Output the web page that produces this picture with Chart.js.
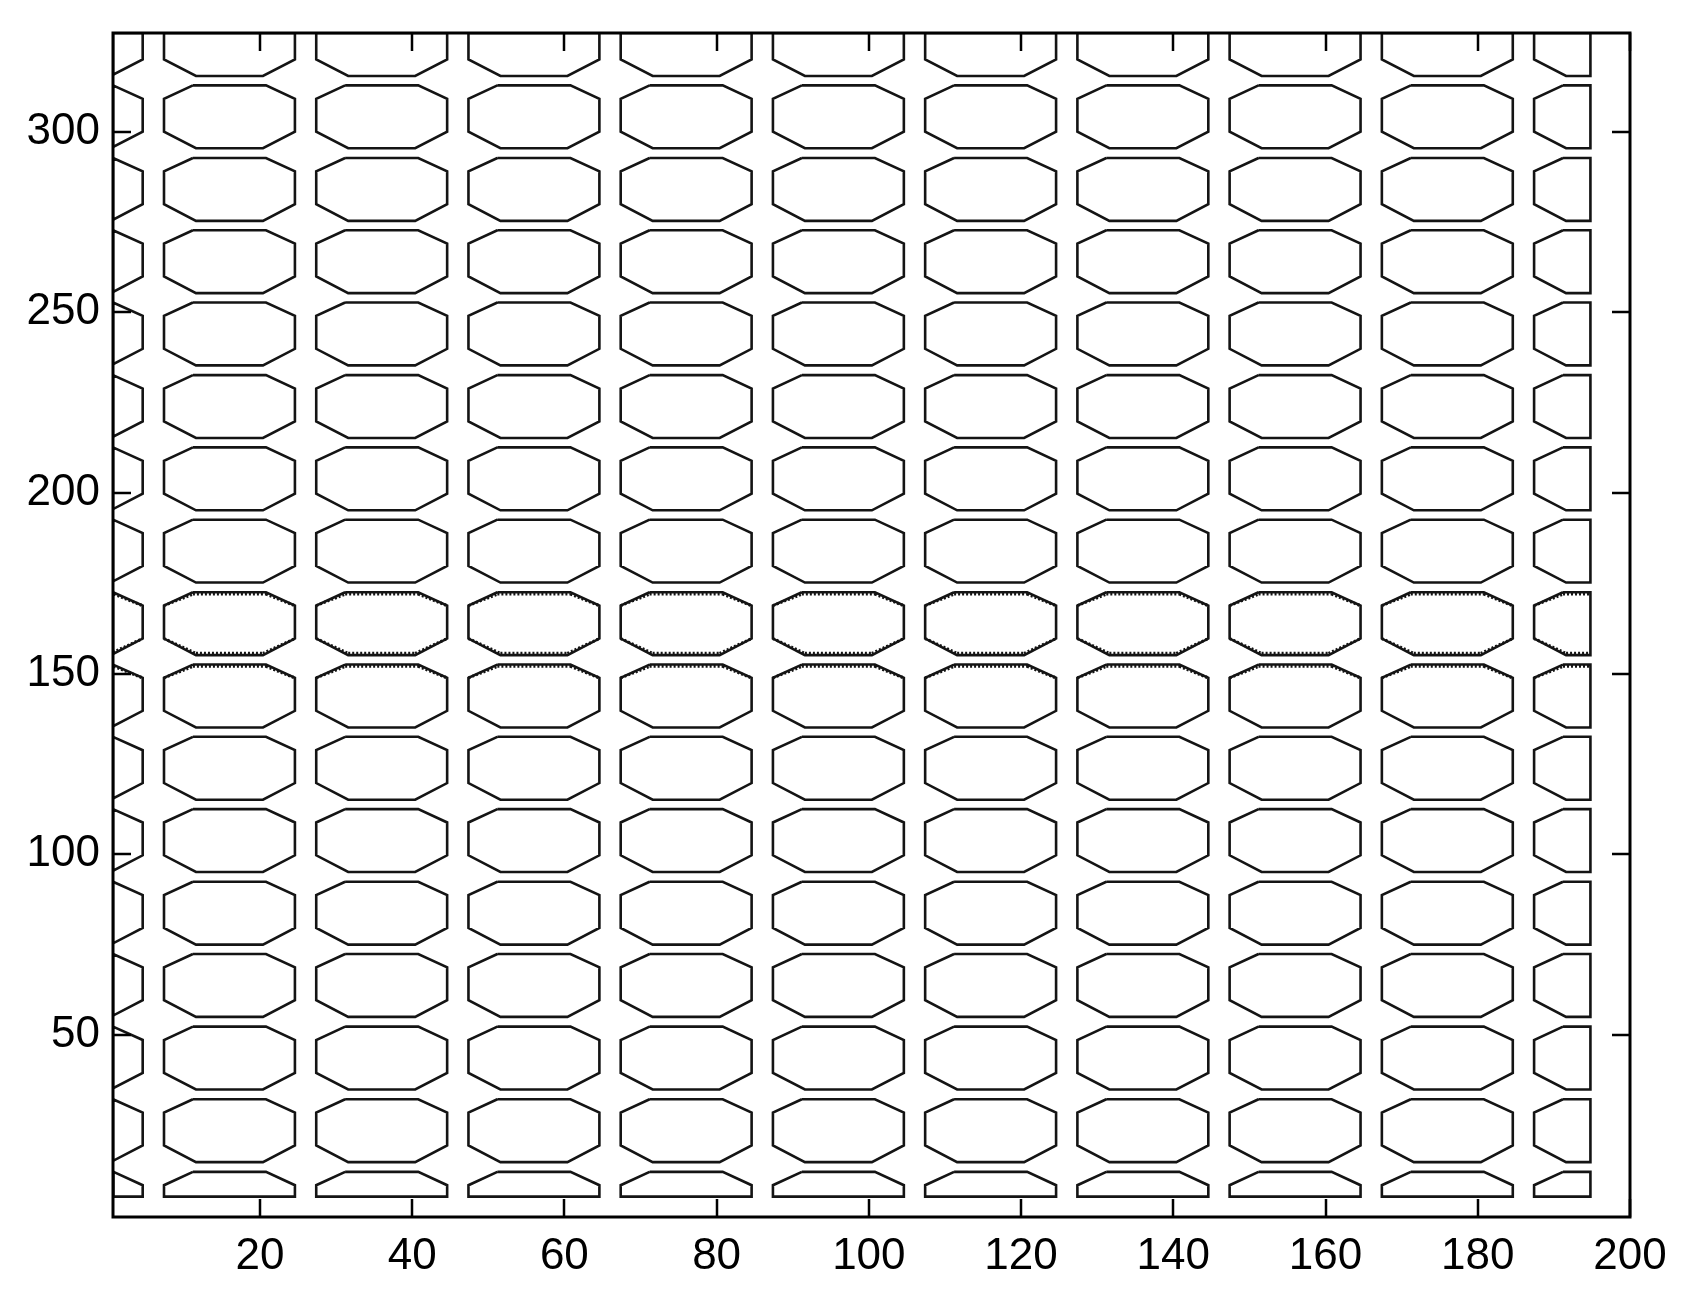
<!DOCTYPE html>
<html>
<head>
<meta charset="utf-8">
<script src="https://cdn.jsdelivr.net/npm/chart.js@4/dist/chart.umd.min.js"></script>
<style>
  body { margin: 0; background: #fff; }
</style>
</head>
<body>
<canvas id="chart" width="1687" height="1306"></canvas>
<script>
// tick labels
const xTicks = [20, 40, 60, 80, 100, 120, 140, 160, 180, 200];
const yTicks = [50, 100, 150, 200, 250, 300];

// centres of the octagon cells
const colCenters = [-4, 16, 36, 56, 76, 96, 116, 136, 156, 176, 196];
const rowCenters = [3.4, 23.5, 43.6, 63.7, 83.7, 103.8, 123.8, 143.8, 163.8, 183.9, 203.9, 223.9, 244.0, 264.0, 284.0, 304.1, 324.1];

// one contour ring around a cell centre (dx, dy)
const cellShape = [[-4.8, 8.7], [4.8, 8.7], [8.6, 5.0], [8.6, -4.1], [4.4, -8.7], [-4.4, -8.7], [-8.6, -4.1], [-8.6, 5.0]];
// the second, tighter contour level that shows on two rows
const innerTop = [[-8.6, 5.0], [-4.8, 8.2], [4.8, 8.2], [8.6, 5.0]];
const innerBottom = [[-8.6, -4.1], [-4.4, -8.2], [4.4, -8.2], [8.6, -4.1]];
const doubleTopRows = [143.8, 163.8];
const doubleBottomRows = [163.8];

// where the contour field ends
const dataBox = { x0: 0.7, x1: 194.8, y0: 5.25, y1: 327.3 };

function lerpX(a, b, x) { const t = (x - a[0]) / (b[0] - a[0]); return [x, a[1] + t * (b[1] - a[1])]; }
function lerpY(a, b, y) { const t = (y - a[1]) / (b[1] - a[1]); return [a[0] + t * (b[0] - a[0]), y]; }

// Sutherland-Hodgman against the data box
function clipPolygon(pts) {
  const edges = [
    [p => p[0] >= dataBox.x0, (a, b) => lerpX(a, b, dataBox.x0)],
    [p => p[0] <= dataBox.x1, (a, b) => lerpX(a, b, dataBox.x1)],
    [p => p[1] >= dataBox.y0, (a, b) => lerpY(a, b, dataBox.y0)],
    [p => p[1] <= dataBox.y1, (a, b) => lerpY(a, b, dataBox.y1)]
  ];
  let out = pts;
  edges.forEach(([inside, cut]) => {
    const src = out;
    out = [];
    src.forEach((cur, i) => {
      const prev = src[(i + src.length - 1) % src.length];
      if (inside(cur)) {
        if (!inside(prev)) out.push(cut(prev, cur));
        out.push(cur);
      } else if (inside(prev)) {
        out.push(cut(prev, cur));
      }
    });
  });
  return out;
}

// Liang-Barsky for one segment
function clipSegment(a, b) {
  let t0 = 0, t1 = 1;
  const dx = b[0] - a[0], dy = b[1] - a[1];
  const checks = [[-dx, a[0] - dataBox.x0], [dx, dataBox.x1 - a[0]], [-dy, a[1] - dataBox.y0], [dy, dataBox.y1 - a[1]]];
  for (const [p, q] of checks) {
    if (p === 0) { if (q < 0) return null; continue; }
    const r = q / p;
    if (p < 0) { if (r > t1) return null; if (r > t0) t0 = r; }
    else { if (r < t0) return null; if (r < t1) t1 = r; }
  }
  return [[a[0] + t0 * dx, a[1] + t0 * dy], [a[0] + t1 * dx, a[1] + t1 * dy]];
}

const outlinePts = [];
const innerPts = [];
const gap = { x: null, y: null };

rowCenters.forEach(cy => {
  colCenters.forEach(cx => {
    const ring = clipPolygon(cellShape.map(([dx, dy]) => [cx + dx, cy + dy]));
    if (ring.length > 1) {
      ring.concat([ring[0]]).forEach(p => outlinePts.push({ x: p[0], y: p[1] }));
      outlinePts.push(gap);
    }
    const extra = [];
    if (doubleTopRows.includes(cy)) extra.push(innerTop);
    if (doubleBottomRows.includes(cy)) extra.push(innerBottom);
    extra.forEach(line => {
      for (let i = 0; i < line.length - 1; i++) {
        const seg = clipSegment([cx + line[i][0], cy + line[i][1]], [cx + line[i + 1][0], cy + line[i + 1][1]]);
        if (!seg) continue;
        innerPts.push({ x: seg[0][0], y: seg[0][1] }, { x: seg[1][0], y: seg[1][1] }, gap);
      }
    });
  });
});

// inward ticks on all four sides plus the box
const frameTicks = {
  id: 'frameTicks',
  afterDraw(chart) {
    const { ctx, chartArea: a, scales: { x, y } } = chart;
    const len = 18;
    ctx.save();
    ctx.strokeStyle = '#000';
    ctx.lineWidth = 2.5;
    ctx.beginPath();
    xTicks.forEach(v => {
      const px = Math.round(x.getPixelForValue(v));
      ctx.moveTo(px, a.bottom); ctx.lineTo(px, a.bottom - len);
      ctx.moveTo(px, a.top); ctx.lineTo(px, a.top + len);
    });
    yTicks.forEach(v => {
      const py = Math.round(y.getPixelForValue(v));
      ctx.moveTo(a.left, py); ctx.lineTo(a.left + len, py);
      ctx.moveTo(a.right, py); ctx.lineTo(a.right - len, py);
    });
    ctx.stroke();
    ctx.lineWidth = 3;
    ctx.strokeRect(a.left, a.top, a.right - a.left, a.bottom - a.top);
    ctx.restore();
  }
};

const tickFont = { family: '"Liberation Sans", Arial, Helvetica, sans-serif', size: 44 };

new Chart(document.getElementById('chart').getContext('2d'), {
  type: 'scatter',
  data: {
    datasets: [
      { data: outlinePts, showLine: true, borderColor: '#141414', borderWidth: 2.6, pointRadius: 0, spanGaps: false, tension: 0, borderJoinStyle: 'miter' },
      { data: innerPts, showLine: true, borderColor: '#141414', borderWidth: 3, borderDash: [2, 2], pointRadius: 0, spanGaps: false, tension: 0 }
    ]
  },
  options: {
    responsive: false,
    animation: false,
    devicePixelRatio: 1,
    layout: { padding: { top: 33, right: 57, left: 0, bottom: 0 } },
    plugins: { legend: { display: false }, tooltip: { enabled: false } },
    scales: {
      x: {
        type: 'linear', min: 0.7, max: 200,
        grid: { display: false, drawTicks: false },
        border: { display: false },
        afterBuildTicks: s => { s.ticks = xTicks.map(v => ({ value: v })); },
        afterFit: s => { s.height = 89; s.paddingLeft = 0; s.paddingRight = 0; },
        ticks: { color: '#000', font: tickFont, padding: 13, maxRotation: 0, autoSkip: false }
      },
      y: {
        type: 'linear', min: -0.4, max: 327.3,
        grid: { display: false, drawTicks: false },
        border: { display: false },
        afterBuildTicks: s => { s.ticks = yTicks.map(v => ({ value: v })); },
        afterFit: s => { s.width = 113; s.paddingTop = 0; s.paddingBottom = 0; },
        ticks: { color: '#000', font: tickFont, padding: 13, autoSkip: false }
      }
    }
  },
  plugins: [frameTicks]
});
</script>
</body>
</html>
